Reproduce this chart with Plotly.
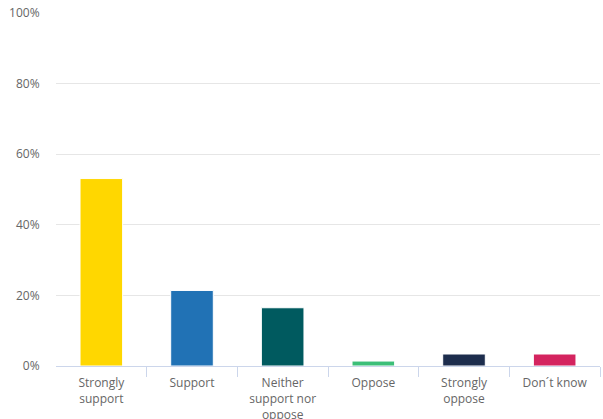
import plotly.graph_objects as go

# Survey responses (share of respondents, %)
categories = ["Strongly<br>support", "Support", "Neither<br>support nor<br>oppose",
              "Oppose", "Strongly<br>oppose", "Don´t know"]
shares = [53.1, 21.4, 16.5, 1.4, 3.4, 3.4]
bar_colors = ["#FFD700", "#2172B5", "#005A5F", "#3CBF78", "#1D2D4D", "#D4245F"]
y_ticks = [0, 20, 40, 60, 80, 100]
y_tick_labels = [f"{v}%" for v in y_ticks]

fig = go.Figure()

fig.add_trace(go.Bar(
    x=categories,
    y=shares,
    marker=dict(color=bar_colors, line=dict(color="white", width=1)),
    width=0.47,
    hoverinfo="x+y",
))

# Invisible helper trace on a linear overlay axis, used only for boundary ticks
fig.add_trace(go.Scatter(x=[-0.5, len(categories) - 0.5], y=[0, 0], xaxis="x2",
                         mode="markers", marker=dict(opacity=0), hoverinfo="skip",
                         showlegend=False))

font_family = "Open Sans, sans-serif"

fig.update_layout(
    width=603,
    height=419,
    margin=dict(l=56, r=3, t=13, b=53),
    paper_bgcolor="white",
    plot_bgcolor="white",
    showlegend=False,
    font=dict(family=font_family, size=12, color="#666666"),
    xaxis=dict(
        type="category",
        range=[-0.5, len(categories) - 0.5],
        automargin=False,
        showline=True,
        linecolor="#CCD6EB",
        linewidth=1,
        showgrid=False,
        ticks="outside",
        ticklen=6,
        tickcolor="rgba(0,0,0,0)",
        tickfont=dict(family=font_family, size=12, color="#666666"),
        fixedrange=True,
    ),
    xaxis2=dict(
        overlaying="x",
        range=[-0.5, len(categories) - 0.5],
        tickvals=[i + 0.5 for i in range(len(categories))],
        showticklabels=False,
        automargin=False,
        ticks="outside",
        ticklen=10,
        tickcolor="#CCD6EB",
        tickwidth=1,
        showline=False,
        showgrid=False,
        zeroline=False,
        side="bottom",
        anchor="y",
    ),
    yaxis=dict(
        range=[0, 100],
        tickmode="array",
        tickvals=y_ticks,
        ticktext=y_tick_labels,
        automargin=False,
        showgrid=True,
        gridcolor="#E6E6E6",
        gridwidth=1,
        zeroline=False,
        showline=False,
        ticks="outside",
        ticklen=13,
        tickcolor="rgba(0,0,0,0)",
        tickfont=dict(family=font_family, size=12, color="#666666"),
        fixedrange=True,
    ),
)

fig.write_html("out.html")
